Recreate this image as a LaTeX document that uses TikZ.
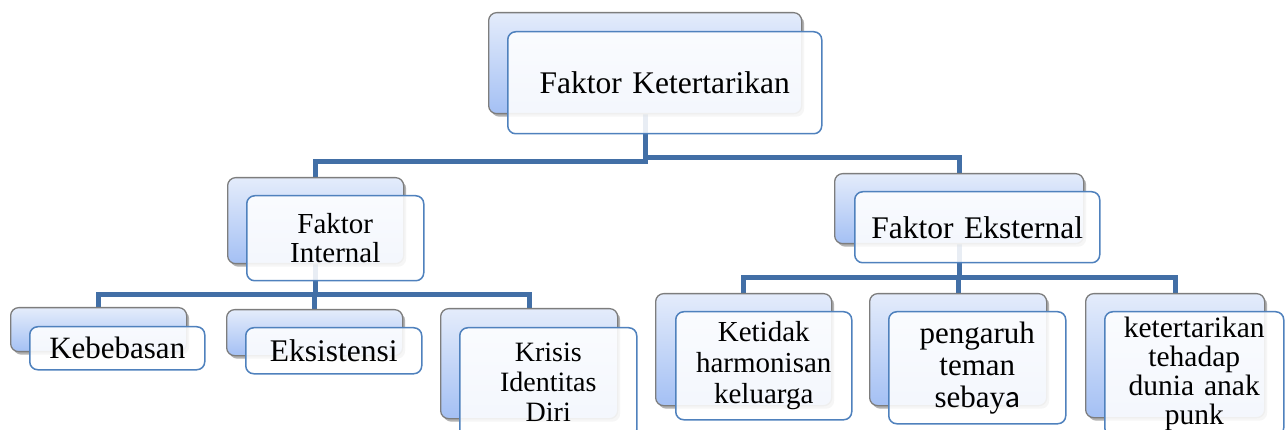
\documentclass[tikz,border=0pt]{standalone}
\usepackage{fontspec}
\setmainfont{Liberation Serif}
\newfontfamily\sansa{Carlito}
\usetikzlibrary{shadows}
\pgfdeclarelayer{bg}
\pgfsetlayers{bg,main}
\definecolor{connc}{RGB}{66,111,166}
\definecolor{frontline}{RGB}{79,129,189}
\definecolor{backline}{RGB}{125,125,125}
\definecolor{backtop}{RGB}{228,236,251}
\definecolor{backbot}{RGB}{164,192,244}
\tikzset{
  backbox/.style={draw=backline, line width=1.3pt, rounded corners=8pt,
    top color=backtop, bottom color=backbot, inner sep=0pt, anchor=north west,
    drop shadow={shadow xshift=2.5pt, shadow yshift=-3pt, fill=black, opacity=0.3}},
  frontbox/.style={draw=frontline, line width=1.5pt, rounded corners=8pt,
    fill=white, fill opacity=0.88, text opacity=1, draw opacity=1, inner sep=0pt,
    anchor=north west, align=center, text=black},
  conn/.style={draw=connc, line width=5pt}
}
\begin{document}
\begin{tikzpicture}[x=1pt,y=-1pt]
\useasboundingbox (0,0) rectangle (1288,430);
\clip (0,0) rectangle (1288,430);
% back boxes
\node[backbox, minimum width=313pt, minimum height=101pt] (topB) at (488,12) {};
\node[backbox, minimum width=176pt, minimum height=86pt] (intB) at (227,177) {};
\node[backbox, minimum width=249pt, minimum height=70pt] (extB) at (834,173) {};
\node[backbox, minimum width=176pt, minimum height=44pt] (kebB) at (10,307) {};
\node[backbox, minimum width=176pt, minimum height=46pt] (eksB) at (226,309) {};
\node[backbox, minimum width=177pt, minimum height=110pt] (kriB) at (440,308) {};
\node[backbox, minimum width=176pt, minimum height=112pt] (ketB) at (655,293) {};
\node[backbox, minimum width=177pt, minimum height=112pt] (penB) at (869,293) {};
\node[backbox, minimum width=179pt, minimum height=124pt] (ktrB) at (1085,293) {};
% front boxes
\node[frontbox, minimum width=314pt, minimum height=102pt, text width=300pt,
  font=\fontsize{31.5}{33}\selectfont] (top) at (507,31) {Faktor Ketertarikan};
\node[frontbox, minimum width=177pt, minimum height=85pt, text width=170pt,
  font=\fontsize{29}{29}\selectfont] (int) at (246,195) {Faktor\\Internal};
\node[frontbox, minimum width=245pt, minimum height=71pt, text width=238pt,
  font=\fontsize{31.5}{33}\selectfont] (ext) at (854,191) {Faktor Eksternal};
\node[frontbox, minimum width=175pt, minimum height=43pt, text width=170pt,
  font=\fontsize{31}{33}\selectfont] (keb) at (29,326) {Kebebasan};
\node[frontbox, minimum width=176pt, minimum height=46pt, text width=170pt,
  font=\fontsize{31.5}{33}\selectfont] (eks) at (245,327) {Eksistensi};
\node[frontbox, minimum width=177pt, minimum height=110pt, text width=170pt,
  font=\fontsize{28}{30}\selectfont] (kri) at (459,327) {Krisis\\Identitas\\Diri};
\node[frontbox, minimum width=176pt, minimum height=108pt, text width=172pt,
  font=\fontsize{29}{31}\selectfont] (ket) at (675,311) {Ketidak\\harmonisan\\keluarga};
\node[frontbox, minimum width=177pt, minimum height=112pt, text width=170pt,
  font=\fontsize{31}{32}\selectfont] (pen) at (888,311) {pengaruh\\teman\\sebay{\sansa a}};
\node[frontbox, minimum width=179pt, minimum height=124pt, text width=176pt,
  font=\fontsize{29.5}{29}\selectfont] (ktr) at (1104,311) {ketertarikan\\tehadap\\dunia anak\\punk};
% connectors
\begin{pgfonlayer}{bg}
\draw[conn] (topB.south) -- ++(0,47) -| (intB.north);
\draw[conn] (topB.south) -- ++(0,43) -| (extB.north);
\draw[conn] (intB.south) -- ++(0,30) -| (kebB.north);
\draw[conn] (intB.south) -- ++(0,30) -| (eksB.north);
\draw[conn] (intB.south) -- ++(0,30) -| (kriB.north);
\draw[conn] (extB.south) -- ++(0,33) -| (ketB.north);
\draw[conn] (extB.south) -- ++(0,33) -| (penB.north);
\draw[conn] (extB.south) -- ++(0,33) -| (ktrB.north);
\end{pgfonlayer}
\end{tikzpicture}
\end{document}
